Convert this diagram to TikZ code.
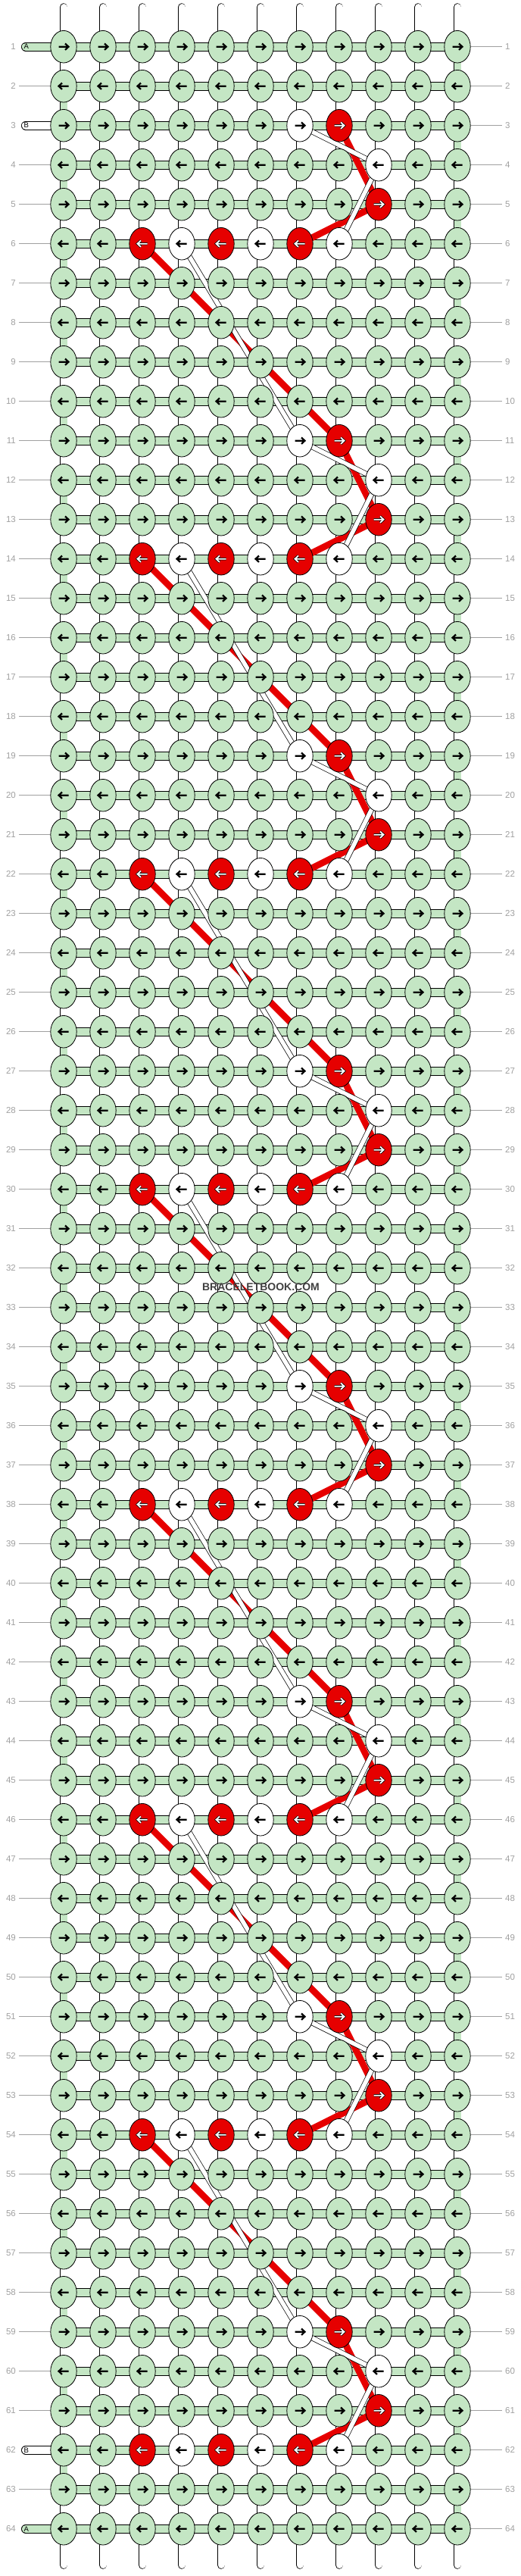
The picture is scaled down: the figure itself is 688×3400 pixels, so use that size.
\documentclass[tikz,border=0pt]{standalone}
\usepackage{fontspec}
\setmainfont{Liberation Sans}
\usetikzlibrary{shapes.geometric}
\definecolor{knotgreen}{RGB}{196,230,196}
\definecolor{knotred}{RGB}{230,0,0}
\definecolor{rowgray}{RGB}{160,160,160}
\definecolor{markgray}{RGB}{64,64,64}
\pgfdeclarelayer{strings}
\pgfdeclarelayer{threads}
\pgfsetlayers{strings,threads,main}
\begin{document}
\begin{tikzpicture}[x=1pt,y=-1pt]
	\tikzstyle{knot}=[ellipse,draw,line width=0.8,minimum width=34.4,minimum height=42.6,inner sep=0]
	\tikzstyle{kfill0}=[fill=knotgreen]
	\tikzstyle{kfill1}=[fill=white]
	\tikzstyle{kfill2}=[fill=knotred]
	\tikzstyle{ink0}=[line width=2.2]
	\tikzstyle{ink1}=[line width=2.2]
	\tikzstyle{ink2}=[line width=0.8,double=white,double distance=1.8]
	\tikzstyle{band}=[line width=0.8,double=knotgreen,double distance=10.4]
	\tikzstyle{tube}=[line width=0.8,double=white,double distance=9]
	\tikzstyle{core}=[draw=gray!40,line width=0.6,double=white,double distance=1.6]
	\tikzstyle{tab}=[line width=0.8,double distance=10.4,line cap=round]
	\tikzstyle{red thread}=[knotred,line width=8.6]
	\tikzstyle{white thread}=[line width=0.7,double=white,double distance=5.6]
	\tikzstyle{row no}=[text=rowgray,font=\fontsize{11.5}{12}\selectfont,inner xsep=4,inner ysep=0]
	\tikzstyle{row line}=[rowgray,line width=0.8]
	\useasboundingbox (0,0) rectangle (688,3400);
	\foreach \r in {1,...,64}{
		\pgfmathtruncatemacro\m{mod(\r+5,8)}
		\pgfmathsetmacro\dir{mod(\r,2)==1 ? 1 : -1}
		\foreach \c in {0,...,10}{
			\pgfmathtruncatemacro\kc{(\m==0)*((\c==6)+2*(\c==7))+(\m==1)*(\c==8)+2*(\m==2)*(\c==8)+(\m==3)*(\c>=2)*(\c<=7)*(2-mod(\c,2))}
			\node[knot,kfill\kc](k\r-\c) at ({84+52*\c},{61.7+52*(\r-1)}){};
			\draw[ink\kc,shift={(k\r-\c.center)},xscale=\dir](-6.5,0)--(6,0)(2,-4.2)--(6.5,0)--(2,4.2);
		}
		\node(ln\r)[row no,anchor=east] at (25,{61.7+52*(\r-1)}){\r};
		\node(rn\r)[row no,anchor=west] at (663,{61.7+52*(\r-1)}){\r};
		\draw[row line](k\r-10)--(rn\r);
		\pgfmathtruncatemacro\tabbed{(\r==1)+(\r==3)+(\r==62)+(\r==64)}
		\ifnum\tabbed=0 \draw[row line](ln\r)--(k\r-0);\fi
	}
	\begin{pgfonlayer}{strings}
		\foreach \r in {1,...,64}{
			\foreach \c [count=\cc] in {0,...,9}
				\draw[band](k\r-\c.center)--(k\r-\cc.center);
		}
		\foreach \r [count=\rr from 2] in {1,...,63}{
			\foreach \c in {0,...,10}{
				\pgfmathtruncatemacro\turn{(\c==10)*mod(\r,2)+(\c==0)*(1-mod(\r,2))}
				\ifnum\turn=1
					\draw[band,double distance=9](k\r-\c.center)--(k\rr-\c.center);
				\else
					\draw[tube](k\r-\c.center)--(k\rr-\c.center);
					\draw[core](k\r-\c.center)--(k\rr-\c.center);
				\fi
			}
		}
		\foreach \c in {0,...,10}{
			\coordinate(t\c) at ({84+52*\c},9.5);
			\coordinate(b\c) at ({84+52*\c},3385.5);
			\draw[tube,line cap=round](t\c)--(k1-\c.center);
			\draw[core](t\c)--(k1-\c.center);
			\draw[tube,line cap=round](b\c)--(k64-\c.center);
			\draw[core](b\c)--(k64-\c.center);
		}
		\foreach \r/\t/\col in {1/A/knotgreen,3/B/white,62/B/white,64/A/knotgreen}{
			\coordinate(s\r) at (34,{61.7+52*(\r-1)});
			\draw[tab,double=\col](s\r)--(k\r-0.center);
		}
	\end{pgfonlayer}
	\foreach \r/\t in {1/A,3/B,62/B,64/A}
		\node(tl\r)[anchor=west,inner sep=0,font=\fontsize{9.5}{10}\selectfont] at (31.5,{61.7+52*(\r-1)}){\t};
	\begin{pgfonlayer}{threads}
		\foreach \b in {3,11,...,59}{
			\pgfmathtruncatemacro\q{\b+2}
			\pgfmathtruncatemacro\s{\b+3}
			\pgfmathtruncatemacro\n{\b+8}
			\draw[red thread](k\b-7.center)--(k\q-8.center);
			\draw[red thread](k\q-8.center)--(k\s-6.center);
			\ifnum\b<59 \draw[red thread](k\s-2.center)--(k\n-7.center);\fi
		}
		\foreach \b in {3,11,...,59}{
			\pgfmathtruncatemacro\p{\b+1}
			\pgfmathtruncatemacro\s{\b+3}
			\pgfmathtruncatemacro\n{\b+8}
			\draw[white thread](k\b-6.center)--(k\p-8.center);
			\draw[white thread](k\p-8.center)--(k\s-7.center);
			\ifnum\b<59 \draw[white thread](k\s-3.center)--(k\n-6.center);\fi
		}
	\end{pgfonlayer}
	\node(mark)[text=markgray,font=\bfseries\fontsize{14}{14}\selectfont] at (344.5,1699){BRACELETBOOK.COM};
\end{tikzpicture}
\end{document}
